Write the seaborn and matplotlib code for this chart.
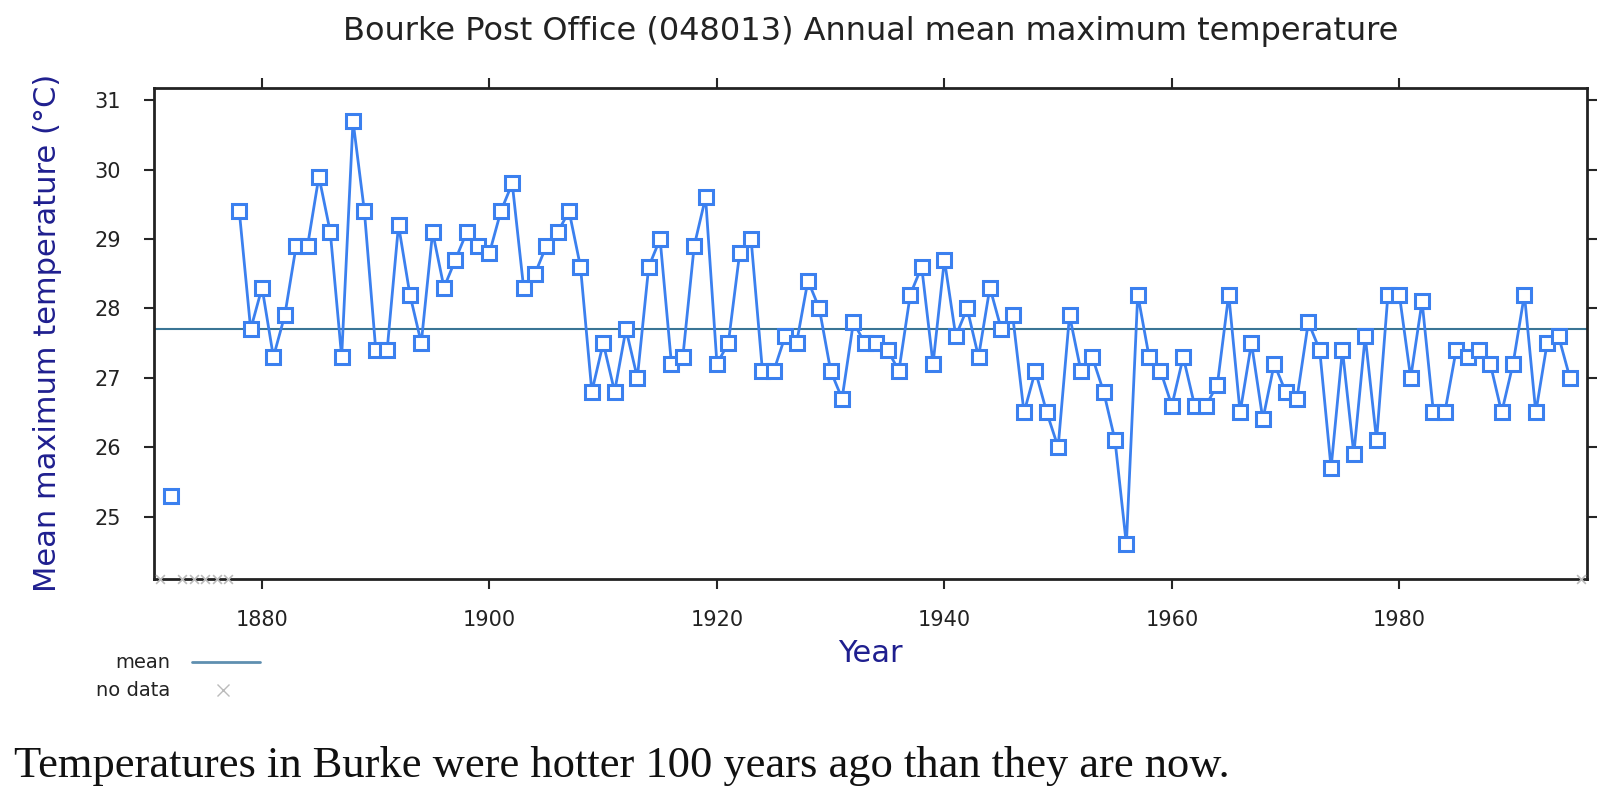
import matplotlib.pyplot as plt
from matplotlib.lines import Line2D
import pandas as pd
import seaborn as sns

# ---- data ----
title = "Bourke Post Office (048013) Annual mean maximum temperature"
caption = "Temperatures in Burke were hotter 100 years ago than they are now."

early_years = [1872]
early_temps = [25.3]

main_years = list(range(1878, 1996))
main_temps = [
    29.4, 27.7, 28.3, 27.3, 27.9, 28.9, 28.9, 29.9, 29.1, 27.3,  # 1878-1887
    30.7, 29.4, 27.4, 27.4, 29.2, 28.2, 27.5, 29.1, 28.3, 28.7,  # 1888-1897
    29.1, 28.9, 28.8, 29.4, 29.8, 28.3, 28.5, 28.9, 29.1, 29.4,  # 1898-1907
    28.6, 26.8, 27.5, 26.8, 27.7, 27.0, 28.6, 29.0, 27.2, 27.3,  # 1908-1917
    28.9, 29.6, 27.2, 27.5, 28.8, 29.0, 27.1, 27.1, 27.6, 27.5,  # 1918-1927
    28.4, 28.0, 27.1, 26.7, 27.8, 27.5, 27.5, 27.4, 27.1, 28.2,  # 1928-1937
    28.6, 27.2, 28.7, 27.6, 28.0, 27.3, 28.3, 27.7, 27.9, 26.5,  # 1938-1947
    27.1, 26.5, 26.0, 27.9, 27.1, 27.3, 26.8, 26.1, 24.6, 28.2,  # 1948-1957
    27.3, 27.1, 26.6, 27.3, 26.6, 26.6, 26.9, 28.2, 26.5, 27.5,  # 1958-1967
    26.4, 27.2, 26.8, 26.7, 27.8, 27.4, 25.7, 27.4, 25.9, 27.6,  # 1968-1977
    26.1, 28.2, 28.2, 27.0, 28.1, 26.5, 26.5, 27.4, 27.3, 27.4,  # 1978-1987
    27.2, 26.5, 27.2, 28.2, 26.5, 27.5, 27.6, 27.0,              # 1988-1995
]

no_data_years = [1871, 1873, 1874, 1875, 1876, 1877, 1996]
mean_temp = 27.7

x_ticks = [1880, 1900, 1920, 1940, 1960, 1980]
y_ticks = [25, 26, 27, 28, 29, 30, 31]

# 两段数据用 segment 区分，避免 1872 与 1878 连线
df = pd.DataFrame({
    "year": early_years + main_years,
    "temp": early_temps + main_temps,
    "segment": ["early"] * len(early_years) + ["main"] * len(main_years),
})

# ---- style ----
sns.set_style("white")
plt.rcParams["font.family"] = ["DejaVu Sans"]

line_blue = "#3b80ef"
navy = "#1f1f8f"
y_low, y_high = 24.1, 31.18

fig = plt.figure(figsize=(16, 7.98), dpi=100)
ax = fig.add_axes([0.09625, 0.2744, 0.8956, 0.6157])

sns.lineplot(data=df, x="year", y="temp", units="segment", estimator=None,
             color=line_blue, linewidth=2.0, marker="s", markersize=9.5,
             markerfacecolor="white", markeredgecolor=line_blue,
             markeredgewidth=2.2, ax=ax, zorder=3)

ax.axhline(mean_temp, color="#3a7595", linewidth=1.5, zorder=2)

nd = pd.DataFrame({"year": no_data_years, "y": [y_low] * len(no_data_years)})
sns.scatterplot(data=nd, x="year", y="y", marker="x", color="#bbbbbb",
                s=40, linewidth=1.2, ax=ax, clip_on=False, zorder=4)

ax.set_xlim(1870.5, 1996.5)
ax.set_ylim(y_low, y_high)
ax.set_xticks(x_ticks)
ax.set_yticks(y_ticks)
ax.tick_params(axis="both", direction="out", length=7, width=1.5,
               top=True, right=True, bottom=True, left=True,
               labeltop=False, labelright=False,
               labelsize=15, labelcolor="#222222")
ax.tick_params(axis="y", pad=17)
ax.tick_params(axis="x", pad=15)
for sp in ax.spines.values():
    sp.set_visible(True)
    sp.set_color("#222222")
    sp.set_linewidth(2)

ax.set_xlabel("")
ax.set_ylabel("")

# 标题与坐标轴标题
fig.text(0.544, 0.96, title, ha="center", va="center", fontsize=23, color="#222222")
fig.text(0.030, 0.583, "Mean maximum temperature (°C)", rotation=90,
         ha="center", va="center", fontsize=22, color=navy)
fig.text(0.544, 1 - 653 / 798, "Year", ha="center", va="center",
         fontsize=22, color=navy)

# 图例（手动绘制，文字右对齐）
fig.text(170 / 1600, 1 - 662 / 798, "mean", ha="right", va="center",
         fontsize=14, color="#222222")
fig.add_artist(Line2D([192 / 1600, 260 / 1600], [1 - 662 / 798] * 2,
                      color="#5f8fb0", linewidth=2, transform=fig.transFigure))
fig.text(170 / 1600, 1 - 690 / 798, "no data", ha="right", va="center",
         fontsize=14, color="#222222")
fig.add_artist(Line2D([223 / 1600], [1 - 690 / 798], marker="x", color="#bbbbbb",
                      markersize=8, linestyle="none", transform=fig.transFigure))

# 底部说明文字
fig.text(14 / 1600, 1 - 777 / 798, caption, ha="left", va="baseline",
         fontsize=32, family=["Liberation Serif", "DejaVu Serif"], color="#111111")

fig.savefig("out.png", dpi=100, facecolor="white")
